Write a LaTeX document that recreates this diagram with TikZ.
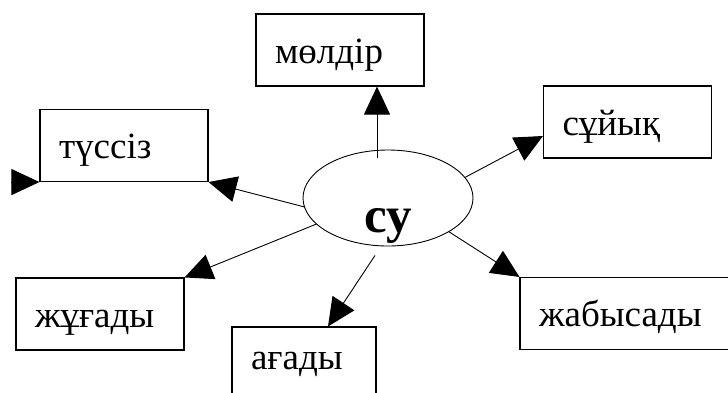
\documentclass[tikz,border=0pt]{standalone}
\usepackage{fontspec}
\setmainfont{Liberation Serif}
\usetikzlibrary{arrows.meta,shapes.geometric}

\begin{document}
\begin{tikzpicture}[x=1pt, y=-1pt, >={Triangle[length=28pt,width=26pt]},
    word/.style={draw, line width=1.1pt, minimum height=72pt,
                 inner xsep=19pt, inner ysep=0pt, align=left,
                 text width=#1, text height=30pt, text depth=4pt,
                 font=\fontsize{37}{39}\selectfont},
    word/.default=130pt,
    arr/.style={->, line width=0.9pt}]
  \useasboundingbox[fill=white] (0,0) rectangle (728,392);

  % Nodes
  \node[ellipse, draw, line width=0.9pt, minimum width=170pt,
        minimum height=96pt, inner sep=0pt] (su) at (388,198) {};
  \node[anchor=base, font=\fontsize{51}{53}\selectfont\bfseries]
        (sutext) at (388,232) {су};
  \node[word] (mol)  at (340,50)    {мөлдір};
  \node[word] (tus)  at (124,145.5) {түссіз};
  \node[word] (suy)  at (627.5,122) {сұйық};
  \node[word] (zhu)  at (100,314)   {жұғады};
  \node[word=106pt, text height=16pt] (aga) at (304,363) {ағады};
  \node[word=177pt] (zhab) at (627.5,313.5) {жабысады};

  % Arrows
  \draw[arr] ([xshift=-11pt,yshift=-8pt]su.north) -- ([xshift=37pt]mol.south);
  \draw[arr] (su.186) -- (tus.south east);
  \draw[arr] ([xshift=-28pt]tus.south west) -- (tus.south west);
  \draw[arr] (su.15) -- ([yshift=-14pt]suy.west);
  \draw[arr] (su.200) -- (zhu.north east);
  \draw[arr] ([xshift=-13pt,yshift=-9pt]su.south) -- ([xshift=24pt]aga.north);
  \draw[arr] (su.331) -- (zhab.north west);
\end{tikzpicture}
\end{document}
